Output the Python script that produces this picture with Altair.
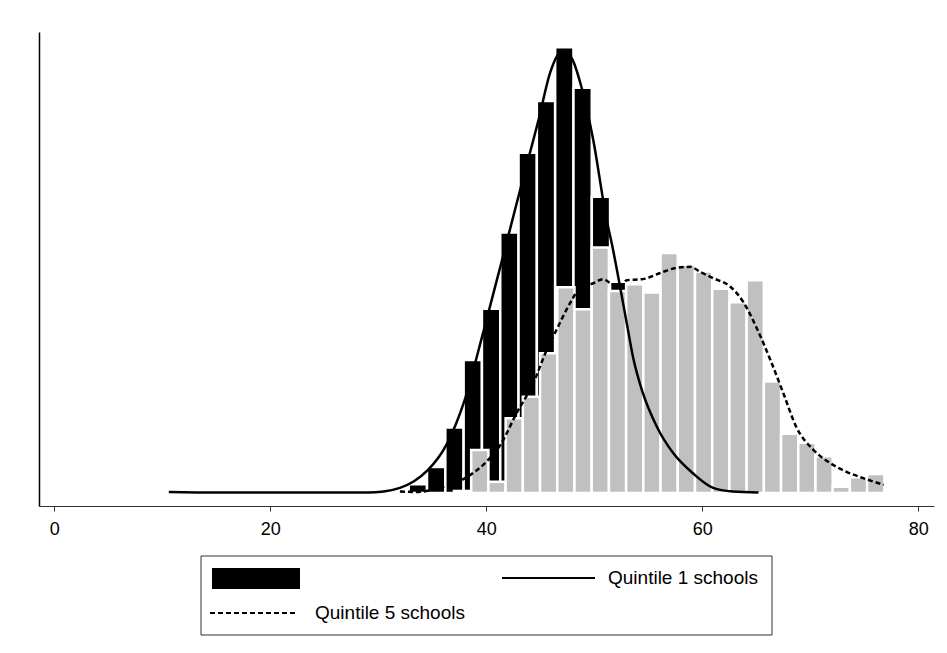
import altair as alt
import pandas as pd

# Histogram: Quintile 1 schools (black), bin centres start + k*width
q1_bin_start = 33.66
q1_bin_width = 1.695
q1_density = [0.0017, 0.0051, 0.0128, 0.0260, 0.0360, 0.0509, 0.0665, 0.0766, 0.0871,
              0.0792, 0.0579, 0.0413, 0.0235, 0.0129, 0.0070, 0.0039, 0.0010, 0.0004]

# Histogram: Quintile 5 schools (grey)
q5_bin_start = 37.80
q5_bin_width = 1.594
q5_density = [0.0004, 0.0084, 0.0022, 0.0146, 0.0188, 0.0273, 0.0402, 0.0359, 0.0480,
              0.0395, 0.0408, 0.0392, 0.0469, 0.0446, 0.0433, 0.0399, 0.0373, 0.0416,
              0.0218, 0.0116, 0.0098, 0.0072, 0.0012, 0.0031, 0.0037]

# Kernel density, Quintile 1 schools (solid)
q1_kx = [10.6, 15, 20, 25, 29, 30.5, 32.0, 33.3, 34.6, 36.3, 38.0, 39.7, 41.45, 43.2, 44.9,
         45.9, 47.1, 48.0, 48.8, 49.9, 51.1, 51.7, 52.4, 53.0, 53.6, 54.5, 55.8, 57.3, 59.1,
         61.0, 62.8, 65.2]
q1_ky = [0.0002, 0.0001, 0.0001, 0.0001, 0.0001, 0.0003, 0.0010, 0.0023, 0.0045, 0.0094,
         0.0182, 0.0313, 0.0455, 0.0598, 0.0735, 0.0821, 0.0866, 0.0846, 0.0794, 0.0690,
         0.0538, 0.0479, 0.0401, 0.0332, 0.0264, 0.0195, 0.0129, 0.0078, 0.0039, 0.0010,
         0.0003, 0.0001]

# Kernel density, Quintile 5 schools (dashed)
q5_kx = [32.0, 33.5, 35.7, 38.2, 40.0, 41.3, 42.8, 44.35, 45.6, 46.5, 47.75, 48.7, 49.9,
         50.8, 51.7, 52.4, 53.0, 54.5, 56.1, 57.6, 58.9, 59.8, 61.0, 62.6, 63.8, 65.0, 66.3,
         67.5, 68.7, 70.3, 71.8, 73.4, 74.9, 76.8]
q5_ky = [0.0003, 0.0002, 0.0010, 0.0031, 0.0061, 0.0094, 0.0156, 0.0215, 0.0280, 0.0319,
         0.0371, 0.0401, 0.0410, 0.0418, 0.0407, 0.0403, 0.0416, 0.0418, 0.0430, 0.0440,
         0.0442, 0.0432, 0.0420, 0.0403, 0.0373, 0.0324, 0.0260, 0.0195, 0.0129, 0.0084,
         0.0059, 0.0041, 0.0029, 0.0016]

x_ticks = [0, 20, 40, 60, 80]
legend_q1 = "Quintile 1 schools"
legend_q5 = "Quintile 5 schools"

FONT = "Liberation Sans"


def bins(start, width, dens):
    rows = []
    for k, d in enumerate(dens):
        c = start + k * width
        rows.append({"x0": c - width / 2, "x1": c + width / 2, "d": d})
    return pd.DataFrame(rows)


xs = alt.Scale(domain=[-1.42, 81.45], nice=False, zero=False)
ys = alt.Scale(domain=[-0.00254, 0.0901], nice=False, zero=False)

x_axis = alt.Axis(values=x_ticks, title=None, grid=False, tickSize=5, labelPadding=9,
                  labelFontSize=18, labelFont=FONT, labelColor="#000000",
                  domainColor="#333333", tickColor="#333333", labelFlush=False)
y_axis = alt.Axis(title=None, grid=False, ticks=False, labels=False, domainColor="#000000",
                  domainWidth=1.5)

black_bars = alt.Chart(bins(q1_bin_start, q1_bin_width, q1_density)).mark_rect(
    color="#000000", stroke="#ffffff", strokeWidth=2.5
).encode(
    x=alt.X("x0:Q", scale=xs, axis=x_axis),
    x2="x1:Q",
    y=alt.Y("d:Q", scale=ys, axis=y_axis),
    y2=alt.datum(0),
)

grey_bars = alt.Chart(bins(q5_bin_start, q5_bin_width, q5_density)).mark_rect(
    color="#c0c0c0", stroke="#ffffff", strokeWidth=2.5
).encode(
    x=alt.X("x0:Q", scale=xs, axis=x_axis),
    x2="x1:Q",
    y=alt.Y("d:Q", scale=ys, axis=y_axis),
    y2=alt.datum(0),
)

q1_line = alt.Chart(pd.DataFrame({"x": q1_kx, "y": q1_ky})).mark_line(
    color="#000000", strokeWidth=2.5, interpolate="monotone"
).encode(x=alt.X("x:Q", scale=xs, axis=x_axis), y=alt.Y("y:Q", scale=ys, axis=y_axis))

q5_line = alt.Chart(pd.DataFrame({"x": q5_kx, "y": q5_ky})).mark_line(
    color="#000000", strokeWidth=2.5, strokeDash=[5, 3], interpolate="monotone"
).encode(x=alt.X("x:Q", scale=xs, axis=x_axis), y=alt.Y("y:Q", scale=ys, axis=y_axis))

one = pd.DataFrame({"a": [0]})

legend_box = alt.Chart(one).mark_rect(
    fill="#ffffff", stroke="#333333", strokeWidth=1
).encode(x=alt.value(162), x2=alt.value(733), y=alt.value(524), y2=alt.value(603))

legend_swatch = alt.Chart(one).mark_rect(color="#000000").encode(
    x=alt.value(173), x2=alt.value(261), y=alt.value(536), y2=alt.value(557))

legend_solid = alt.Chart(one).mark_rule(color="#000000", strokeWidth=2).encode(
    x=alt.value(463), x2=alt.value(556), y=alt.value(546))

legend_dash = alt.Chart(one).mark_rule(color="#000000", strokeWidth=2, strokeDash=[5, 3]).encode(
    x=alt.value(171), x2=alt.value(258), y=alt.value(581))

legend_t1 = alt.Chart(one).mark_text(
    align="left", baseline="middle", font=FONT, fontSize=19, color="#000000"
).encode(x=alt.value(569), y=alt.value(546), text=alt.value(legend_q1))

legend_t5 = alt.Chart(one).mark_text(
    align="left", baseline="middle", font=FONT, fontSize=19, color="#000000"
).encode(x=alt.value(276), y=alt.value(581), text=alt.value(legend_q5))

chart = alt.layer(
    black_bars, grey_bars, q1_line, q5_line,
    legend_box, legend_swatch, legend_solid, legend_dash, legend_t1, legend_t5,
).properties(
    width=895, height=474,
    autosize=alt.AutoSizeParams(type="none"),
    padding={"left": 39, "top": 32, "right": 13, "bottom": 147},
    background="#ffffff",
).configure_view(stroke=None).configure_axisX(
    labelFontSize=18, labelFont=FONT, labelPadding=9, tickSize=5
)

chart.save("out.html", embed_options={"renderer": "svg", "actions": False})
